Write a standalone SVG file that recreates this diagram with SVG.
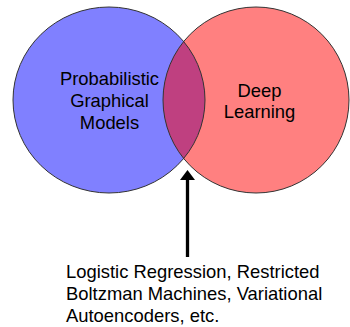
<svg xmlns="http://www.w3.org/2000/svg" width="350" height="327" viewBox="0 0 350 327">
  <style>
    .lbl { font-family: "Liberation Sans", Arial, sans-serif; font-size: 18.4px; fill: #000; }
    .mid { text-anchor: middle; }
    .edge { fill: none; stroke: #333; stroke-width: 1; }
  </style>
  <defs>
    <clipPath id="blueClip">
      <ellipse cx="109" cy="100" rx="96" ry="93"/>
    </clipPath>
    <marker id="arrow" viewBox="0 0 10 15" refX="1" refY="7.5" markerWidth="10" markerHeight="15" markerUnits="userSpaceOnUse" orient="auto">
      <path d="M0,0 L10,7.5 L0,15 Z" fill="#000"/>
    </marker>
  </defs>
  <g id="pgm">
    <ellipse cx="109" cy="100" rx="96" ry="93" fill="#8080FF"/>
  </g>
  <g id="dl">
    <ellipse cx="256" cy="100" rx="93" ry="93" fill="#FF8080"/>
  </g>
  <g id="overlap">
    <ellipse cx="256" cy="100" rx="93" ry="93" fill="#BF4080" clip-path="url(#blueClip)"/>
    <ellipse class="edge" cx="109" cy="100" rx="96" ry="93"/>
    <ellipse class="edge" cx="256" cy="100" rx="93" ry="93"/>
  </g>
  <g id="pgm-label">
    <text class="lbl mid" x="109.5" y="85">Probabilistic</text>
    <text class="lbl mid" x="109.5" y="107">Graphical</text>
    <text class="lbl mid" x="109.5" y="129">Models</text>
  </g>
  <g id="dl-label">
    <text class="lbl mid" x="259.5" y="97">Deep</text>
    <text class="lbl mid" x="259.5" y="118">Learning</text>
  </g>
  <g id="connectors">
    <line x1="187.5" y1="257" x2="187.5" y2="179" stroke="#000" stroke-width="3.3" marker-end="url(#arrow)"/>
  </g>
  <g id="note">
    <text class="lbl" x="66" y="278">Logistic Regression, Restricted</text>
    <text class="lbl" x="66" y="300">Boltzman Machines, Variational</text>
    <text class="lbl" x="66" y="322">Autoencoders, etc.</text>
  </g>
</svg>
